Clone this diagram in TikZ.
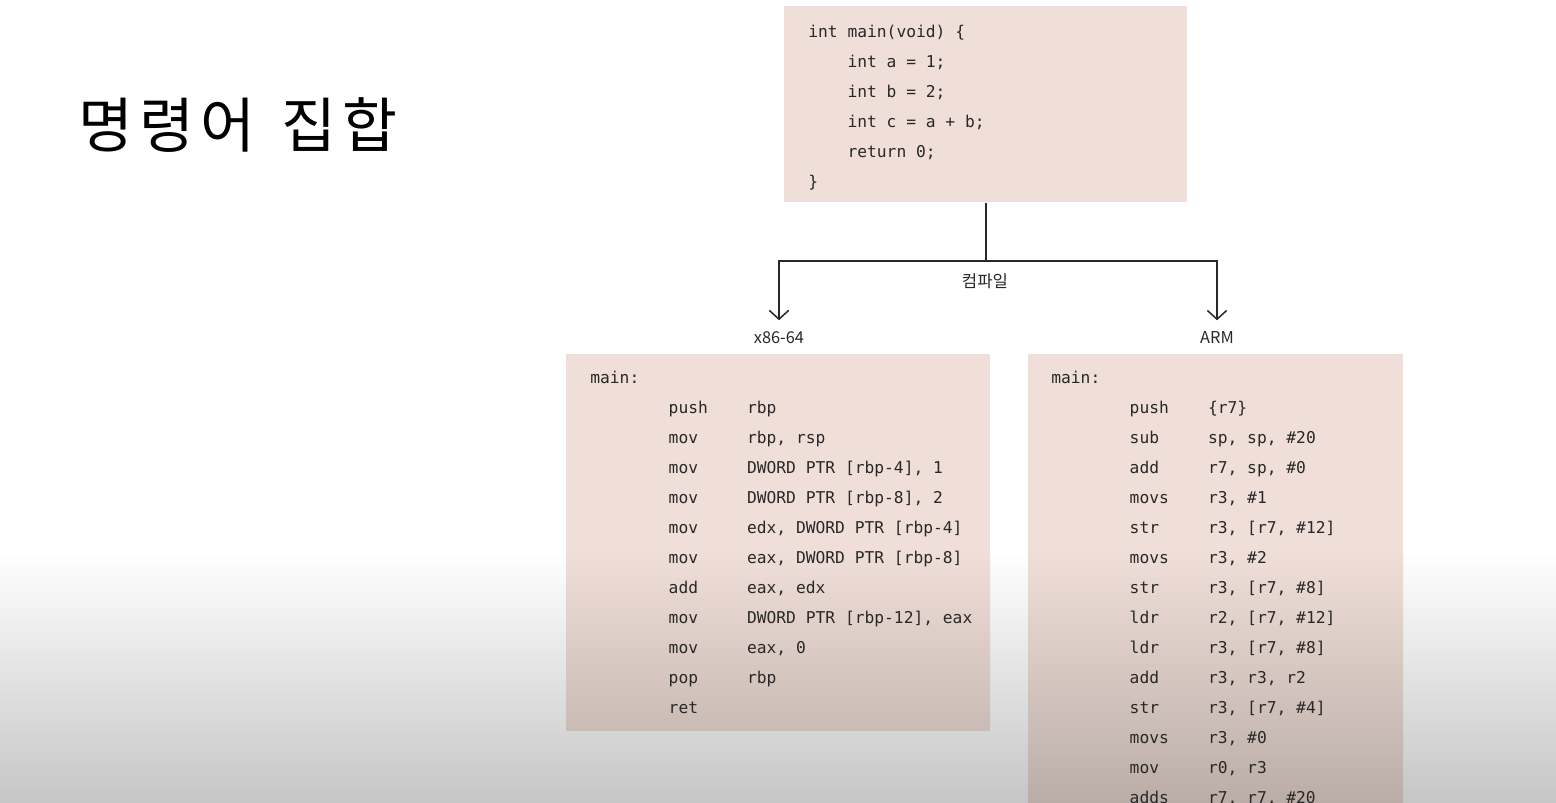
\documentclass[tikz,border=0pt]{standalone}
\usepackage{fontspec}
\setmonofont{DejaVu Sans Mono}
\newfontfamily\krfont{Noto Sans CJK KR}
\newfontfamily\krtitlefont[LetterSpace=10]{Noto Sans CJK KR}
\usetikzlibrary{arrows.meta,positioning}
\definecolor{boxfill}{RGB}{240,223,216}
\definecolor{boxfillmid}{RGB}{202,187,181}
\definecolor{boxfilldark}{RGB}{186,173,168}
\definecolor{shadegray}{RGB}{198,198,198}
\definecolor{inkgray}{RGB}{40,40,40}
\tikzset{
  codebox/.style={fill=boxfill, inner sep=0pt, anchor=north west},
  codetext/.style={inner sep=0pt, anchor=north west, align=left,
    text=inkgray, font=\ttfamily\fontsize{9.26}{17.07}\selectfont},
  archlabel/.style={font=\krfont\fontsize{9.3}{11}\selectfont,
    text=inkgray, inner xsep=2pt, inner ysep=6.5pt},
  conn/.style={line width=0.85pt, draw=inkgray},
  arr/.style={conn, -{Straight Barb[length=5pt, width=11pt]}},
}
\newcommand{\asmline}[2]{\hspace*{4.816em}\makebox[4.816em][l]{#1}#2}

\begin{document}
\begin{tikzpicture}[x=0.02cm, y=-0.02cm]
  \useasboundingbox (0,0) rectangle (1556,802);
  % background, greyed towards the bottom
  \fill[white] (0,0) rectangle (1556,802);
  \shade[top color=white, bottom color=shadegray] (0,550) rectangle (1556,802);

  % Title
  \node[font=\krtitlefont\fontsize{34}{40}\selectfont, anchor=west,
        inner sep=0pt, text=black] (title) at (78,125) {명령어\hspace{0.45em}집합};

  % C source panel
  \node[codebox, minimum width=8.06cm, minimum height=3.92cm] (src) at (784,6) {};
  \node[codetext] (srccode) at (808,16) {
    \strut int main(void) \{\\
    \hspace*{2.408em}int a = 1;\\
    \hspace*{2.408em}int b = 2;\\
    \hspace*{2.408em}int c = a + b;\\
    \hspace*{2.408em}return 0;\\
    \}
  };

  % x86-64 panel
  \node[codebox, minimum width=8.48cm, minimum height=7.52cm] (xbox) at (566,354) {};
  \shade[top color=boxfill, bottom color=boxfillmid] (566,550) rectangle (990,730);
  \node[codetext] (xcode) at (590,362) {
    \strut main:\\
    \asmline{push}{rbp}\\
    \asmline{mov}{rbp, rsp}\\
    \asmline{mov}{DWORD PTR [rbp-4], 1}\\
    \asmline{mov}{DWORD PTR [rbp-8], 2}\\
    \asmline{mov}{edx, DWORD PTR [rbp-4]}\\
    \asmline{mov}{eax, DWORD PTR [rbp-8]}\\
    \asmline{add}{eax, edx}\\
    \asmline{mov}{DWORD PTR [rbp-12], eax}\\
    \asmline{mov}{eax, 0}\\
    \asmline{pop}{rbp}\\
    \asmline{ret}{}
  };

  % ARM panel
  \node[codebox, minimum width=7.5cm, minimum height=8.96cm] (abox) at (1028,354) {};
  \shade[top color=boxfill, bottom color=boxfilldark] (1028,550) rectangle (1403,802);
  \node[codetext] (acode) at (1051,362) {
    \strut main:\\
    \asmline{push}{\{r7\}}\\
    \asmline{sub}{sp, sp, \#20}\\
    \asmline{add}{r7, sp, \#0}\\
    \asmline{movs}{r3, \#1}\\
    \asmline{str}{r3, [r7, \#12]}\\
    \asmline{movs}{r3, \#2}\\
    \asmline{str}{r3, [r7, \#8]}\\
    \asmline{ldr}{r2, [r7, \#12]}\\
    \asmline{ldr}{r3, [r7, \#8]}\\
    \asmline{add}{r3, r3, r2}\\
    \asmline{str}{r3, [r7, \#4]}\\
    \asmline{movs}{r3, \#0}\\
    \asmline{mov}{r0, r3}\\
    \asmline{adds}{r7, r7, \#20}
  };

  % Compile step
  \node[archlabel] (lblx) at (779,338) {x86-64};
  \node[archlabel] (lblarm) at (1217,338) {ARM};
  \node[font=\krfont\fontsize{9.5}{12}\selectfont, text=inkgray] (compile) at (985,281) {컴파일};
  \coordinate (split) at (src.south |- 0,261);
  \draw[conn] (src.south) -- (split);
  \draw[arr] (split) -| (lblx);
  \draw[arr] (split) -| (lblarm);
\end{tikzpicture}
\end{document}
